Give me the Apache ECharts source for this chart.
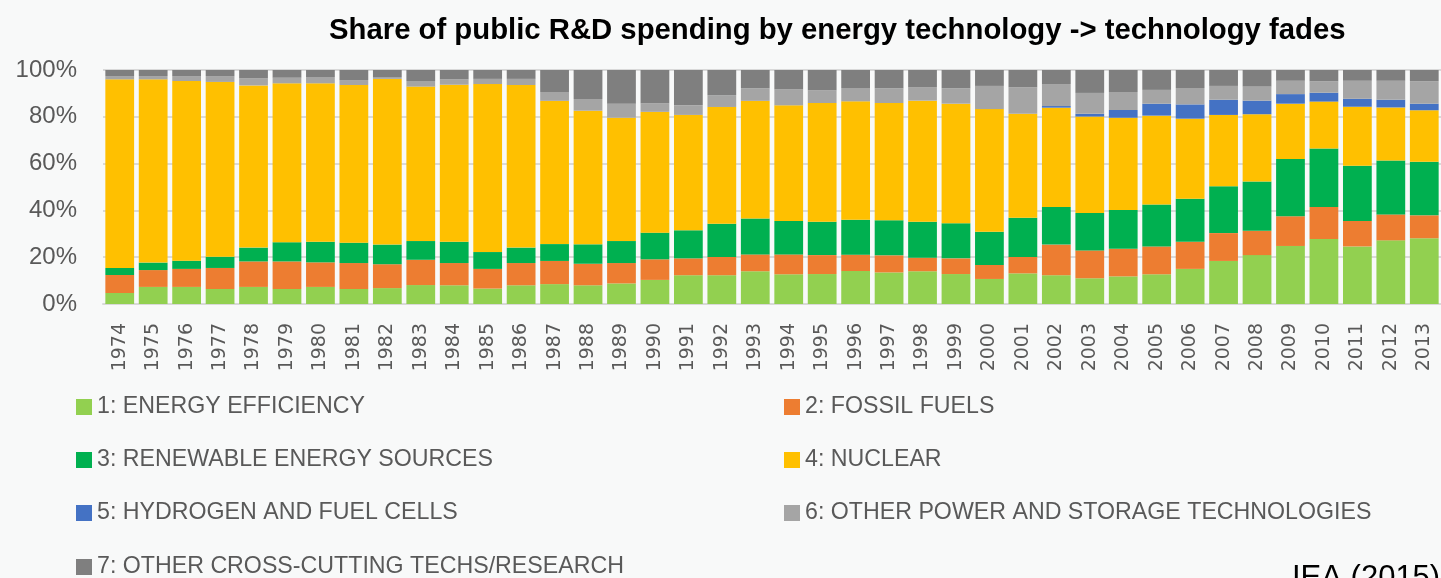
<!DOCTYPE html>
<html>
<head>
<meta charset="utf-8">
<script src="https://cdn.jsdelivr.net/npm/echarts@6.0.0/dist/echarts.min.js"></script>
<style>
  html, body { margin: 0; padding: 0; background: #f8f9f9; }
  #chart { width: 1441px; height: 578px; }
</style>
</head>
<body>
<div id="chart"></div>
<script>
// years on the x axis
const years = ['1974','1975','1976','1977','1978','1979','1980','1981','1982','1983',
  '1984','1985','1986','1987','1988','1989','1990','1991','1992','1993',
  '1994','1995','1996','1997','1998','1999','2000','2001','2002','2003',
  '2004','2005','2006','2007','2008','2009','2010','2011','2012','2013'];

// shares in %
const efficiency = [4.7,7.3,7.3,6.4,7.3,6.4,7.3,6.4,6.8,8.1,8.0,6.6,8.0,8.5,8.0,8.8,10.3,12.3,12.3,14.0,
  12.7,12.8,14.1,13.5,14.0,12.8,10.7,13.1,12.3,11.0,11.8,12.7,15.0,18.4,20.9,24.8,27.8,24.6,27.2,28.1];
const fossil = [7.7,7.2,7.7,9.0,10.9,11.8,10.5,11.1,10.2,10.8,9.5,8.4,9.5,9.9,9.2,8.7,8.8,7.2,7.8,7.2,
  8.5,8.1,7.0,7.3,5.8,6.7,6.0,7.0,13.1,11.9,11.8,11.9,11.6,11.9,10.4,12.7,13.7,10.9,11.1,9.8];
const renewable = [3.0,3.2,3.5,4.8,5.9,8.2,8.8,8.7,8.4,8.0,9.1,7.2,6.6,7.2,8.3,9.4,11.4,12.0,14.2,15.3,
  14.3,14.3,14.9,15.0,15.4,15.0,14.2,16.8,16.1,16.0,16.6,17.9,18.4,20.0,21.0,24.5,25.0,23.6,23.0,22.9];
const nuclear = [80.6,78.3,76.8,74.7,69.3,67.9,67.7,67.4,70.8,66.0,67.1,71.8,69.5,61.2,57.1,52.7,51.6,49.3,49.9,50.3,
  49.4,50.7,50.6,50.1,51.7,51.1,52.4,44.4,42.4,41.2,39.4,38.0,34.2,30.5,28.8,23.6,20.0,25.2,22.7,22.0];
const hydrogen = [0,0,0,0,0,0,0,0,0,0,0,0,0,0,0,0,0,0,0,0,
  0,0,0,0,0,0,0,0,0.7,1.2,3.3,5.1,6.1,6.5,5.8,4.1,3.8,3.4,3.3,2.8];
const otherPower = [1.4,1.4,2.1,2.5,3.0,2.4,2.7,2.1,0.8,2.4,2.3,2.2,2.6,3.8,5.0,6.0,3.7,4.2,5.0,5.4,
  6.8,5.4,5.7,6.3,5.8,6.6,9.9,11.3,9.4,8.9,7.7,5.9,7.0,5.9,6.0,5.7,4.9,7.7,8.1,9.6];
const crossCutting = [2.6,2.6,2.6,2.6,3.6,3.3,3.0,4.3,3.0,4.7,4.0,3.8,3.8,9.4,12.4,14.4,14.2,15.0,10.8,7.8,
  8.3,8.7,7.7,7.8,7.3,7.8,6.8,7.4,6.0,9.8,9.4,8.5,7.7,6.8,7.1,4.6,4.8,4.6,4.6,4.8];

const yTicks = [0, 20, 40, 60, 80, 100];

const seriesDefs = [
  { name: '1: ENERGY EFFICIENCY', data: efficiency, color: '#92d050' },
  { name: '2: FOSSIL FUELS', data: fossil, color: '#ed7d31' },
  { name: '3: RENEWABLE ENERGY SOURCES', data: renewable, color: '#00b050' },
  { name: '4: NUCLEAR', data: nuclear, color: '#ffc000' },
  { name: '5: HYDROGEN AND FUEL CELLS', data: hydrogen, color: '#4472c4' },
  { name: '6: OTHER POWER AND STORAGE TECHNOLOGIES', data: otherPower, color: '#a5a5a5' },
  { name: '7: OTHER CROSS-CUTTING TECHS/RESEARCH', data: crossCutting, color: '#7f7f7f' }
];

// legend slots: two columns, four rows
const legendCols = [71, 779];
const legendRows = [390, 443, 496, 550];

const chart = echarts.init(document.getElementById('chart'));

const legends = seriesDefs.map((s, i) => ({
  left: legendCols[i % 2],
  top: legendRows[Math.floor(i / 2)],
  icon: 'rect',
  itemWidth: 16,
  itemHeight: 16,
  selectedMode: false,
  data: [s.name],
  textStyle: {
    fontFamily: 'Liberation Sans, Arial, sans-serif',
    fontSize: 23.2,
    lineHeight: 24,
    color: '#595959'
  }
}));

const option = {
  backgroundColor: '#f8f9f9',
  animation: false,
  title: {
    text: 'Share of public R&D spending by energy technology -> technology fades',
    left: 324,
    top: 11,
    textStyle: {
      fontFamily: 'Liberation Sans, Arial, sans-serif',
      fontWeight: 'bold',
      fontSize: 29.3,
      color: '#000'
    }
  },
  legend: legends,
  grid: {
    left: 103,
    right: 0,
    top: 70,
    bottom: 274,
    containLabel: false
  },
  xAxis: {
    type: 'category',
    data: years,
    axisTick: { show: false },
    axisLine: { show: true, lineStyle: { color: '#d9d9d9', width: 2 } },
    axisLabel: {
      rotate: 90,
      margin: 19,
      fontFamily: 'DejaVu Sans, sans-serif',
      fontSize: 19,
      color: '#595959',
      interval: 0
    }
  },
  yAxis: {
    type: 'value',
    min: yTicks[0],
    max: yTicks[yTicks.length - 1],
    interval: 20,
    axisLine: { show: false },
    axisTick: { show: false },
    splitLine: { show: true, lineStyle: { color: '#d9d9d9', width: 2 } },
    axisLabel: {
      margin: 26,
      fontFamily: 'Liberation Sans, Arial, sans-serif',
      fontSize: 24,
      color: '#595959',
      formatter: (v) => v + '%'
    }
  },
  graphic: [
    {
      type: 'text',
      left: 1292,
      top: 563,
      style: {
        text: 'IEA (2015)',
        fontFamily: 'Liberation Sans, Arial, sans-serif',
        fontSize: 31,
        fill: '#000'
      }
    }
  ],
  series: seriesDefs.map((s) => ({
    name: s.name,
    type: 'bar',
    stack: 'total',
    barCategoryGap: '14%',
    data: s.data,
    itemStyle: { color: s.color }
  }))
};

chart.setOption(option);
</script>
</body>
</html>
